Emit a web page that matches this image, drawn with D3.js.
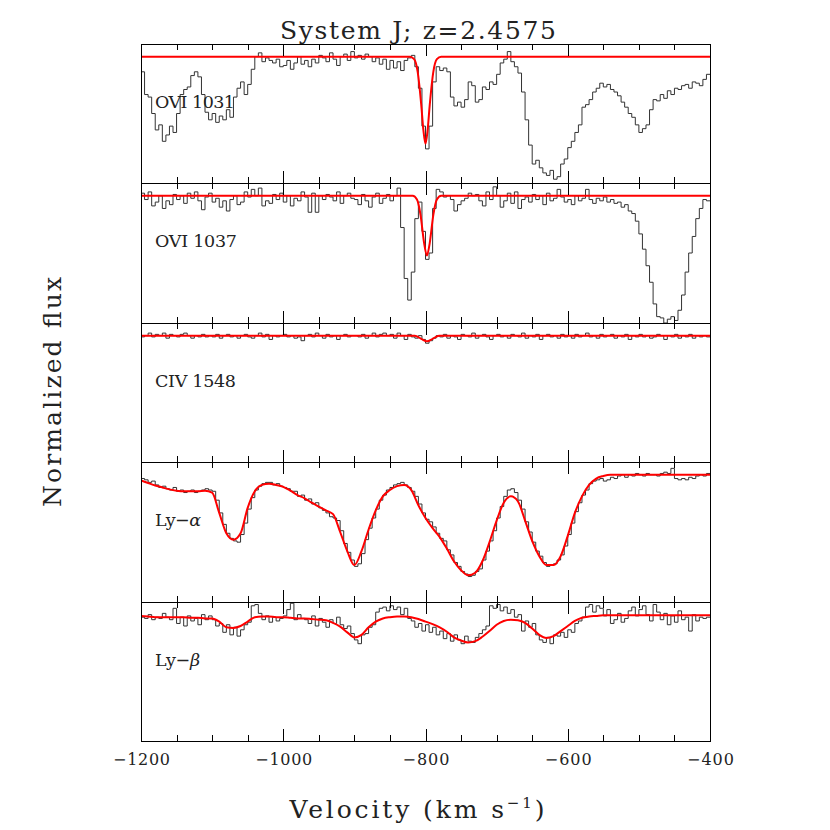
<!DOCTYPE html>
<html>
<head>
<meta charset="utf-8">
<title>System J; z=2.4575</title>
<style>
body { margin: 0; background: #fff; }
text { font-family: "DejaVu Serif", "Liberation Serif", serif; fill: #222; }
.frame { fill: none; stroke: #000; stroke-width: 1; shape-rendering: crispEdges; }
.ticks line { stroke: #000; stroke-width: 1; shape-rendering: crispEdges; }
.data { fill: none; stroke: #333; stroke-width: 1; }
.model { fill: none; stroke: #f00; stroke-width: 2; }
</style>
<script src="https://d3js.org/d3.v7.min.js"></script>
</head>
<body>
<div id="chart"></div>
<script>

// binned spectra, 5 km/s bins starting at -1200 km/s
var velStart = -1200, velEnd = -400, binWidth = 5;

var ovi1031Flux = [
  0.88, 0.70, 0.68, 0.55, 0.42, 0.46, 0.33, 0.38, 0.45, 0.40, 0.55, 0.70, 0.74, 0.76, 0.85, 0.88, 0.84, 0.70, 0.56, 0.50,
  0.55, 0.48, 0.53, 0.50, 0.58, 0.52, 0.68, 0.75, 0.80, 0.70, 0.78, 0.90, 1.00, 1.03, 0.96, 0.99, 0.97, 0.95, 0.98, 0.92,
  0.93, 0.97, 0.90, 0.95, 1.00, 0.94, 0.97, 0.92, 0.98, 0.95, 1.01, 0.99, 0.96, 1.03, 0.98, 0.93, 1.00, 1.02, 0.97, 1.04,
  0.99, 1.01, 0.98, 1.02, 1.00, 0.96, 0.99, 0.94, 0.98, 0.90, 0.97, 0.91, 0.96, 0.89, 0.97, 0.99, 1.01, 0.92, 0.75, 0.45,
  0.27, 0.45, 0.80, 0.92, 0.89, 0.91, 0.88, 0.68, 0.61, 0.64, 0.60, 0.66, 0.80, 0.77, 0.64, 0.66, 0.76, 0.74, 0.80, 0.78,
  0.86, 0.95, 0.98, 1.04, 0.96, 0.92, 0.87, 0.72, 0.50, 0.30, 0.15, 0.18, 0.12, 0.08, 0.06, 0.10, 0.03, 0.05, 0.15, 0.19,
  0.28, 0.33, 0.40, 0.46, 0.60, 0.62, 0.66, 0.72, 0.75, 0.79, 0.76, 0.78, 0.74, 0.72, 0.69, 0.64, 0.60, 0.55, 0.52, 0.46,
  0.40, 0.43, 0.46, 0.58, 0.66, 0.65, 0.70, 0.67, 0.73, 0.70, 0.75, 0.74, 0.77, 0.78, 0.75, 0.80, 0.79, 0.77, 0.82, 0.86
];

var ovi1037Flux = [
  1.02, 0.97, 1.03, 0.92, 0.95, 1.00, 0.90, 0.96, 0.93, 1.01, 0.97, 1.00, 0.94, 1.02, 0.98, 1.03, 0.96, 0.89, 0.99, 1.02,
  0.95, 0.98, 0.91, 0.96, 0.88, 0.97, 1.00, 0.93, 0.95, 1.03, 0.99, 1.05, 1.00, 1.06, 0.92, 0.96, 0.94, 1.01, 0.97, 1.02,
  0.95, 1.00, 0.92, 0.98, 0.96, 1.03, 0.99, 0.87, 1.02, 0.87, 1.00, 0.97, 1.01, 0.99, 0.96, 1.03, 0.94, 1.00, 1.02, 0.98,
  0.97, 0.93, 1.01, 0.96, 0.91, 0.99, 1.02, 0.94, 0.98, 1.01, 0.96, 1.00, 1.06, 0.75, 0.35, 0.18, 0.40, 0.82, 0.95, 0.72,
  0.50, 0.55, 0.90, 1.05, 1.03, 0.99, 1.00, 0.97, 0.88, 0.93, 0.96, 0.98, 1.02, 1.00, 1.01, 0.96, 0.92, 1.03, 0.97, 1.07,
  1.00, 0.91, 0.96, 1.02, 0.94, 1.03, 0.90, 0.97, 0.99, 0.95, 1.01, 0.97, 1.00, 0.93, 1.02, 0.96, 0.98, 1.05, 0.99, 0.95,
  0.97, 0.93, 1.00, 0.96, 0.98, 1.05, 0.97, 0.94, 0.98, 0.96, 0.99, 0.95, 0.97, 0.94, 0.95, 0.91, 0.93, 0.88, 0.86, 0.80,
  0.70, 0.58, 0.45, 0.32, 0.15, 0.05, 0.04, 0.00, 0.03, 0.05, 0.02, 0.10, 0.22, 0.40, 0.55, 0.68, 0.82, 0.90, 0.97, 0.96
];

var civ1548Flux = [
  0.99, 1.00, 1.02, 0.99, 1.01, 1.00, 1.02, 0.98, 1.01, 1.00, 0.99, 1.01, 1.02, 1.00, 0.98, 1.00, 0.99, 1.01, 0.99, 1.00,
  0.99, 1.01, 0.98, 1.00, 1.01, 0.99, 1.00, 0.98, 1.00, 1.01, 0.99, 0.98, 1.00, 1.02, 0.99, 1.01, 0.97, 1.00, 0.99, 1.00,
  1.01, 0.99, 1.00, 0.98, 0.99, 0.96, 1.00, 1.01, 0.99, 1.02, 1.00, 0.98, 1.01, 0.99, 1.00, 0.97, 1.00, 1.01, 0.99, 1.00,
  1.00, 0.99, 1.01, 0.98, 1.00, 1.02, 0.99, 1.01, 1.02, 1.00, 1.01, 0.98, 1.02, 1.00, 0.97, 1.01, 0.99, 0.98, 1.00, 0.97,
  0.94, 0.96, 0.98, 1.00, 0.99, 1.01, 0.98, 1.00, 0.99, 0.97, 1.01, 1.00, 0.99, 1.02, 0.98, 1.00, 1.01, 0.99, 0.97, 1.00,
  1.01, 0.99, 1.00, 0.98, 1.01, 1.00, 0.99, 1.02, 0.98, 1.00, 0.99, 1.01, 0.97, 1.00, 1.01, 0.99, 1.00, 0.98, 1.01, 0.99,
  1.00, 0.98, 1.01, 0.99, 1.00, 1.02, 0.99, 1.00, 0.98, 1.01, 0.99, 1.00, 1.01, 0.98, 1.00, 0.99, 1.01, 0.97, 1.00, 0.99,
  1.01, 0.99, 1.00, 0.98, 0.99, 1.01, 1.00, 0.97, 1.00, 0.99, 1.01, 0.98, 1.00, 0.99, 1.01, 0.98, 1.00, 0.99, 1.00, 0.99
];

var lyaFlux = [
  0.97, 0.96, 0.94, 0.95, 0.92, 0.90, 0.91, 0.89, 0.88, 0.90, 0.87, 0.88, 0.86, 0.87, 0.88, 0.86, 0.87, 0.88, 0.89, 0.88,
  0.87, 0.80, 0.70, 0.61, 0.54, 0.50, 0.48, 0.47, 0.53, 0.62, 0.73, 0.82, 0.88, 0.91, 0.93, 0.94, 0.94, 0.92, 0.93, 0.91,
  0.90, 0.89, 0.87, 0.87, 0.83, 0.84, 0.80, 0.81, 0.77, 0.78, 0.74, 0.72, 0.70, 0.67, 0.66, 0.64, 0.56, 0.46, 0.39, 0.33,
  0.28, 0.30, 0.38, 0.49, 0.58, 0.66, 0.73, 0.80, 0.84, 0.88, 0.90, 0.92, 0.93, 0.94, 0.92, 0.90, 0.87, 0.83, 0.77, 0.70,
  0.65, 0.63, 0.59, 0.54, 0.50, 0.48, 0.41, 0.37, 0.31, 0.28, 0.24, 0.22, 0.20, 0.21, 0.24, 0.26, 0.33, 0.40, 0.48, 0.56,
  0.66, 0.75, 0.83, 0.88, 0.89, 0.86, 0.80, 0.73, 0.63, 0.55, 0.47, 0.40, 0.36, 0.31, 0.28, 0.29, 0.30, 0.33, 0.37, 0.44,
  0.53, 0.62, 0.71, 0.78, 0.84, 0.88, 0.93, 0.95, 0.96, 0.97, 0.95, 0.96, 0.98, 0.97, 0.99, 1.00, 0.98, 1.00, 0.99, 1.01,
  1.00, 0.99, 1.01, 1.00, 1.00, 0.99, 1.01, 1.02, 1.01, 1.05, 0.97, 0.96, 0.97, 0.96, 0.98, 0.97, 0.99, 1.00, 0.99, 1.01
];

var lybFlux = [
  0.98, 0.97, 1.00, 0.96, 0.98, 0.97, 1.01, 0.98, 0.96, 1.05, 0.93, 0.98, 0.91, 0.99, 0.95, 0.97, 0.92, 1.00, 0.96, 0.99,
  0.96, 0.91, 0.93, 0.86, 0.92, 0.84, 0.90, 0.83, 0.88, 0.92, 0.94, 1.07, 1.08, 1.01, 0.96, 0.99, 0.94, 0.98, 0.95, 0.97,
  0.99, 1.04, 1.09, 0.96, 1.00, 0.97, 0.96, 0.93, 0.99, 0.91, 0.97, 0.94, 0.90, 0.96, 0.93, 0.98, 0.92, 0.89, 0.91, 0.85,
  0.80, 0.77, 0.84, 0.85, 0.90, 0.92, 1.02, 1.05, 1.06, 1.03, 1.07, 1.04, 1.06, 1.00, 1.05, 0.97, 0.95, 0.90, 0.93, 0.87,
  0.92, 0.86, 0.90, 0.84, 0.87, 0.81, 0.85, 0.79, 0.84, 0.80, 0.77, 0.83, 0.79, 0.78, 0.82, 0.85, 0.88, 0.91, 1.07, 1.05,
  1.08, 1.03, 1.06, 1.01, 1.04, 0.98, 1.00, 0.87, 0.95, 0.90, 0.93, 0.84, 0.80, 0.78, 0.82, 0.77, 0.84, 0.83, 0.86, 0.82,
  0.88, 0.86, 0.93, 0.95, 0.98, 1.06, 1.08, 1.02, 1.07, 1.05, 0.99, 1.04, 0.93, 0.96, 1.01, 0.94, 0.97, 1.03, 1.06, 0.99,
  1.04, 1.07, 1.00, 0.95, 1.08, 1.02, 0.96, 1.01, 0.92, 0.99, 0.94, 1.03, 0.96, 0.98, 0.87, 1.00, 0.95, 0.98, 0.97, 0.98
];

// fitted profiles
var ovi1031ModelVel = [-1200, -822, -816, -811, -806, -803, -800, -797, -794, -789, -784, -778, -400];
var ovi1031ModelFlux = [1, 1, 0.98, 0.88, 0.62, 0.42, 0.31, 0.42, 0.62, 0.88, 0.98, 1, 1];

var ovi1037ModelVel = [-1200, -818, -812, -807, -802, -798, -794, -789, -784, -778, -400];
var ovi1037ModelFlux = [1, 1, 0.97, 0.85, 0.63, 0.53, 0.63, 0.85, 0.97, 1, 1];

var civ1548ModelVel = [-1200, -815, -806, -798, -790, -781, -400];
var civ1548ModelFlux = [1, 1, 0.975, 0.955, 0.975, 1, 1];

// Ly-a and Ly-b fits sampled every 10 km/s from -1200
var lyModelStep = 10;
var lyaModelFlux = [
  0.955, 0.935, 0.915, 0.90, 0.885, 0.875, 0.87, 0.87, 0.87, 0.875,
  0.86, 0.70, 0.54, 0.49, 0.54, 0.74, 0.87, 0.92, 0.93, 0.92,
  0.905, 0.875, 0.84, 0.815, 0.78, 0.75, 0.72, 0.69, 0.55, 0.40,
  0.29, 0.40, 0.57, 0.72, 0.83, 0.88, 0.91, 0.92, 0.88, 0.76,
  0.66, 0.58, 0.51, 0.42, 0.32, 0.25, 0.21, 0.23, 0.32, 0.47,
  0.64, 0.78, 0.83, 0.79, 0.64, 0.48, 0.36, 0.29, 0.29, 0.36,
  0.52, 0.70, 0.83, 0.92, 0.97, 0.99, 1.0, 1.0, 1.0, 1.0,
  1.0, 1.0, 1.0, 1.0, 1.0, 1.0, 1.0, 1.0, 1.0, 1.0,
  1.0
];
var lybModelFlux = [
  0.99, 0.985, 0.98, 0.98, 0.98, 0.98, 0.98, 0.975, 0.975, 0.97,
  0.97, 0.945, 0.90, 0.895, 0.91, 0.945, 0.98, 0.985, 0.985, 0.98,
  0.98, 0.975, 0.97, 0.97, 0.965, 0.96, 0.955, 0.935, 0.905, 0.86,
  0.82, 0.84, 0.90, 0.945, 0.97, 0.98, 0.985, 0.985, 0.98, 0.965,
  0.945, 0.925, 0.90, 0.865, 0.82, 0.795, 0.78, 0.79, 0.825, 0.87,
  0.92, 0.95, 0.96, 0.955, 0.935, 0.89, 0.84, 0.815, 0.83, 0.87,
  0.91, 0.95, 0.975, 0.985, 0.99, 0.995, 0.995, 0.995, 0.995, 0.995,
  0.995, 0.995, 0.995, 0.995, 0.995, 0.995, 0.995, 0.995, 0.995, 0.995,
  0.995
];
var lyModelVel = lyaModelFlux.map(function(f, i) { return velStart + i * lyModelStep; });

var majorTicks = [-1200, -1000, -800, -600, -400];
var minorTicks = [-1150, -1100, -1050, -950, -900, -850, -750, -700, -650, -550, -500, -450];

var panels = [
  { label: "OVI 1031", width: 80, flux: ovi1031Flux, mv: ovi1031ModelVel, mf: ovi1031ModelFlux },
  { label: "OVI 1037", width: 82, flux: ovi1037Flux, mv: ovi1037ModelVel, mf: ovi1037ModelFlux },
  { label: "CIV 1548", width: 81, flux: civ1548Flux, mv: civ1548ModelVel, mf: civ1548ModelFlux },
  { label: "Ly\u2212", greek: "\u03b1", width: 46, flux: lyaFlux, mv: lyModelVel, mf: lyaModelFlux },
  { label: "Ly\u2212", greek: "\u03b2", width: 45, flux: lybFlux, mv: lyModelVel, mf: lybModelFlux }
];

// layout
var plotTop = 44, plotBottom = 741, plotLeft = 141, plotRight = 710;
var panelH = (plotBottom - plotTop) / panels.length;

var x = d3.scaleLinear().domain([velStart, velEnd]).range([plotLeft, plotRight]);

var svg = d3.select("#chart").append("svg")
  .attr("width", 830)
  .attr("height", 830);

var step = d3.line().curve(d3.curveStepAfter);
var smooth = d3.line().curve(d3.curveMonotoneX);

panels.forEach(function(p, k) {
  var top = Math.round(plotTop + k * panelH);
  var bottom = Math.round(plotTop + (k + 1) * panelH);
  var y = d3.scaleLinear().domain([0, 1.1]).range([bottom, top]);
  var g = svg.append("g").attr("class", "panel");

  var clipId = "clip" + k;
  svg.append("clipPath").attr("id", clipId)
    .append("rect")
    .attr("x", plotLeft).attr("y", top)
    .attr("width", plotRight - plotLeft).attr("height", bottom - top);

  // data histogram
  var pts = p.flux.map(function(f, i) { return [velStart + i * binWidth, f]; });
  pts.push([velEnd, p.flux[p.flux.length - 1]]);
  step.x(function(d) { return x(d[0]); }).y(function(d) { return y(d[1]); });
  g.append("path")
    .datum(pts)
    .attr("class", "data")
    .attr("clip-path", "url(#" + clipId + ")")
    .attr("d", step);

  // model
  var mpts = p.mv.map(function(v, i) { return [v, p.mf[i]]; });
  smooth.x(function(d) { return x(d[0]); }).y(function(d) { return y(d[1]); });
  g.append("path")
    .datum(mpts)
    .attr("class", "model")
    .attr("clip-path", "url(#" + clipId + ")")
    .attr("d", smooth);

  // ticks on top edge (pointing down) and bottom edge (pointing up)
  [[minorTicks, 6], [majorTicks, 12]].forEach(function(t) {
    g.append("g").attr("class", "ticks")
      .attr("transform", "translate(0," + top + ")")
      .call(d3.axisBottom(x).tickValues(t[0]).tickSize(t[1]).tickFormat(""))
      .call(function(a) { a.select(".domain").remove(); });
    g.append("g").attr("class", "ticks")
      .attr("transform", "translate(0," + bottom + ")")
      .call(d3.axisTop(x).tickValues(t[0]).tickSize(t[1]).tickFormat(""))
      .call(function(a) { a.select(".domain").remove(); });
  });

  g.append("rect")
    .attr("class", "frame")
    .attr("x", plotLeft).attr("y", top)
    .attr("width", plotRight - plotLeft).attr("height", bottom - top);

  var lab = g.append("text")
    .attr("x", 155)
    .attr("y", top + 64)
    .attr("textLength", p.width)
    .attr("lengthAdjust", "spacing")
    .style("font-size", "17.5px")
    .text(p.label);
  if (p.greek) {
    lab.append("tspan").style("font-style", "italic").text(p.greek);
  }
});

// velocity labels under the bottom panel
var xAxis = svg.append("g")
  .attr("transform", "translate(0," + plotBottom + ")")
  .call(d3.axisBottom(x).tickValues(majorTicks).tickSize(0).tickPadding(13)
    .tickFormat(function(d) { return "\u2212" + Math.abs(d); }));
xAxis.select(".domain").remove();
xAxis.selectAll("text")
  .style("font-size", "16px")
  .attr("textLength", function(d) { return Math.abs(d) >= 1000 ? 57 : 47; })
  .attr("lengthAdjust", "spacing");

// title and axis titles
svg.append("text")
  .attr("x", 418).attr("y", 39)
  .attr("text-anchor", "middle")
  .attr("textLength", 276)
  .attr("lengthAdjust", "spacing")
  .style("font-size", "25px")
  .text("System J; z=2.4575");

svg.append("text")
  .attr("transform", "translate(61,392) rotate(-90)")
  .attr("text-anchor", "middle")
  .attr("textLength", 230)
  .attr("lengthAdjust", "spacing")
  .style("font-size", "25px")
  .text("Normalized flux");

var xt = svg.append("text")
  .attr("x", 417).attr("y", 818)
  .attr("text-anchor", "middle")
  .attr("textLength", 255)
  .attr("lengthAdjust", "spacing")
  .style("font-size", "25px");
xt.append("tspan").text("Velocity (km s");
xt.append("tspan").attr("dy", -10).style("font-size", "15px").text("\u22121");
xt.append("tspan").attr("dy", 10).text(")");

</script>
</body>
</html>
